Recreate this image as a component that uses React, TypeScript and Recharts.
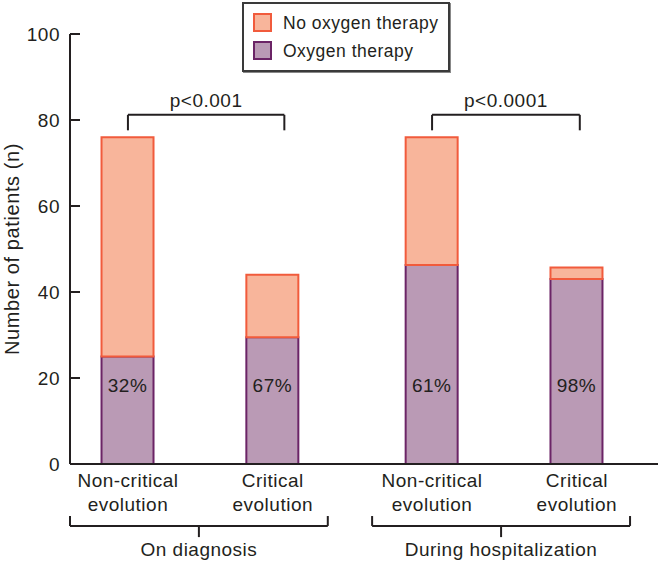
import { BarChart, Bar, XAxis, YAxis, ReferenceLine, LabelList, Legend } from "recharts";

const INK = "#231F20";
const FONT = '"Liberation Sans", Arial, Helvetica, sans-serif';

// x positions of the four bars (second group sits a little further right)
const positions = [0.4, 1.4, 2.5, 3.5];
const categories = [
  ["Non-critical", "evolution"],
  ["Critical", "evolution"],
  ["Non-critical", "evolution"],
  ["Critical", "evolution"],
];
const oxygen = [25, 29.5, 46.3, 43];
const noOxygen = [51, 14.5, 29.7, 2.7];
const percents = ["32%", "67%", "61%", "98%"];
const yTicks = [0, 20, 40, 60, 80, 100];

const pValues = ["p<0.001", "p<0.0001"];
const pBrackets = [
  [0.4, 1.48],
  [2.5, 3.52],
];
const groups = ["On diagnosis", "During hospitalization"];
const groupBrackets = [
  [0, 1.78],
  [2.086, 3.867],
];

const series = [
  { key: "noOxygen", name: "No oxygen therapy", fill: "#F8B59B", stroke: "#F15B3C" },
  { key: "oxygen", name: "Oxygen therapy", fill: "#BA9AB5", stroke: "#6B2466" },
];

const data = positions.map((pos, i) => ({
  pos,
  oxygen: oxygen[i],
  noOxygen: noOxygen[i],
  pct: percents[i],
}));

const textStyle = { fontFamily: FONT, fontSize: 19, letterSpacing: 0.5, fill: INK };

function XTick(props: any) {
  const { x, y, index } = props;
  const lines = categories[index] ?? [];
  return (
    <text x={x} y={y} textAnchor="middle" style={textStyle}>
      {lines.map((l, i) => (
        <tspan key={i} x={x} y={y + 23 + i * 24}>
          {l}
        </tspan>
      ))}
    </text>
  );
}

function YTick(props: any) {
  const { x, y, payload } = props;
  return (
    <g>
      <line x1={x} x2={x + 10} y1={y} y2={y} stroke={INK} strokeWidth={2} />
      <text x={x - 10} y={y + 7} textAnchor="end" style={textStyle}>
        {payload.value}
      </text>
    </g>
  );
}

function PctLabel(props: any) {
  const { x, y, width, height, value } = props;
  return (
    <text x={x + width / 2} y={y + height - 72} textAnchor="middle" style={textStyle}>
      {value}
    </text>
  );
}

function LegendBox() {
  return (
    <div
      style={{
        position: "relative",
        width: 208,
        height: 70,
        boxSizing: "border-box",
        border: "2px solid #3a3a3a",
        boxShadow: "1px 1px 0 #888",
        background: "#fff",
        fontFamily: FONT,
        fontSize: 17.5,
        letterSpacing: 0.5,
        color: INK,
        lineHeight: "18px",
      }}
    >
      {series.map((s, i) => (
        <div key={s.key} style={{ position: "absolute", left: 9, top: 9 + i * 28, display: "flex", alignItems: "center", whiteSpace: "nowrap" }}>
          <span
            style={{
              display: "inline-block",
              width: 19,
              height: 19,
              boxSizing: "border-box",
              background: s.fill,
              border: `2px solid ${s.stroke}`,
              marginRight: 11,
            }}
          />
          <span>{s.name}</span>
        </div>
      ))}
    </div>
  );
}

export default function App() {
  const line = { stroke: INK, strokeWidth: 2, ifOverflow: "visible" as const };
  return (
    <div style={{ width: 658, height: 562, position: "relative" }}>
      <style>{"body{margin:0}"}</style>
      <BarChart width={658} height={562} data={data} margin={{ top: 34, right: 0, bottom: 0, left: 0 }} style={{ fontFamily: FONT }}>
        <XAxis
          type="number"
          dataKey="pos"
          domain={[0, 4.06]}
          ticks={positions}
          tick={<XTick />}
          tickLine={false}
          tickSize={0}
          tickMargin={0}
          height={98}
          axisLine={{ stroke: INK, strokeWidth: 2 }}
          allowDataOverflow
        />
        <YAxis
          domain={[0, 100]}
          ticks={yTicks}
          width={70}
          tick={<YTick />}
          tickLine={false}
          tickSize={0}
          tickMargin={0}
          axisLine={{ stroke: INK, strokeWidth: 2 }}
          label={{
            value: "Number of patients (n)",
            angle: -90,
            position: "insideLeft",
            offset: 12,
            style: { textAnchor: "middle", fontFamily: FONT, fontSize: 20, letterSpacing: 0.6, fill: INK },
          }}
        />
        <Legend content={<LegendBox />} layout="horizontal" verticalAlign="middle" wrapperStyle={{ top: 2, left: 242, width: 208, height: 70 }} />
        <Bar dataKey="oxygen" name="Oxygen therapy" stackId="a" barSize={52} fill={series[1].fill} stroke={series[1].stroke} strokeWidth={2} isAnimationActive={false}>
          <LabelList dataKey="pct" content={<PctLabel />} />
        </Bar>
        <Bar dataKey="noOxygen" name="No oxygen therapy" stackId="a" barSize={52} fill={series[0].fill} stroke={series[0].stroke} strokeWidth={2} isAnimationActive={false} />

        {pBrackets.map(([a, b], i) => [
          <ReferenceLine key={`ph${i}`} segment={[{ x: a, y: 81.2 }, { x: b, y: 81.2 }]} {...line}
            label={{ value: pValues[i], position: "top", offset: 8, style: textStyle }} />,
          <ReferenceLine key={`pl${i}`} segment={[{ x: a, y: 81.2 }, { x: a, y: 77.6 }]} {...line} />,
          <ReferenceLine key={`pr${i}`} segment={[{ x: b, y: 81.2 }, { x: b, y: 77.6 }]} {...line} />,
        ])}

        {groupBrackets.map(([a, b], i) => [
          <ReferenceLine key={`gh${i}`} segment={[{ x: a, y: -14.4 }, { x: b, y: -14.4 }]} {...line} />,
          <ReferenceLine key={`gl${i}`} segment={[{ x: a, y: -14.4 }, { x: a, y: -12.1 }]} {...line} />,
          <ReferenceLine key={`gr${i}`} segment={[{ x: b, y: -14.4 }, { x: b, y: -12.1 }]} {...line} />,
          <ReferenceLine key={`gc${i}`} segment={[{ x: (a + b) / 2, y: -14.4 }, { x: (a + b) / 2, y: -17 }]} {...line}
            label={{ value: groups[i], position: "bottom", offset: 5, style: textStyle }} />,
        ])}
      </BarChart>
    </div>
  );
}
